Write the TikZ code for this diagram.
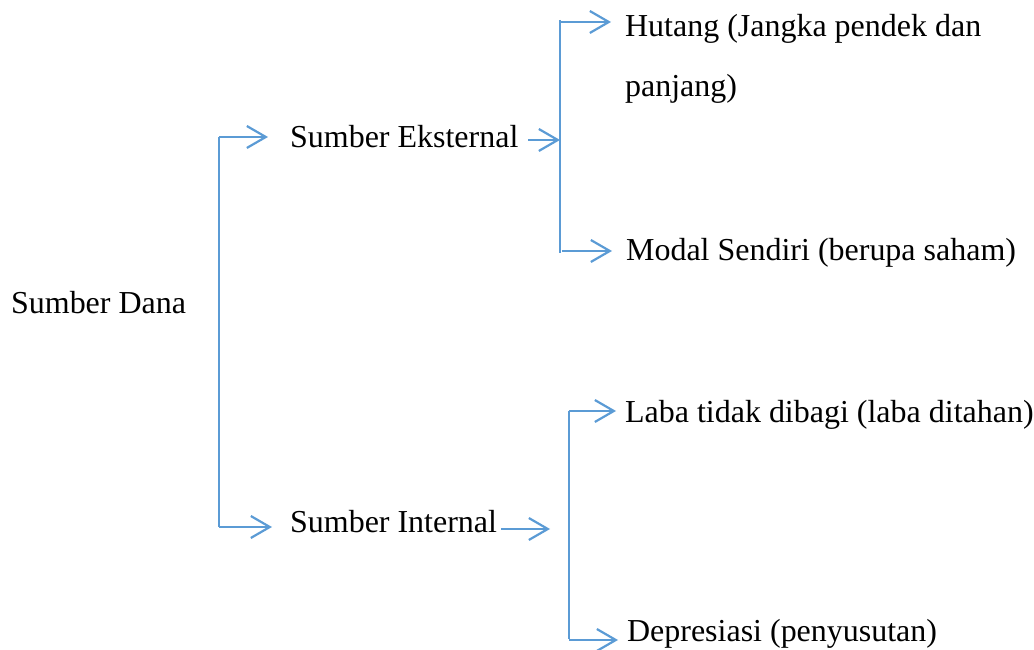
\documentclass[tikz,border=0pt]{standalone}
\usepackage{fontspec}
\setmainfont{Liberation Serif}
\usepackage{xcolor}
\usetikzlibrary{
  arrows.meta,
  calc,
  positioning
}
\definecolor{wordblue}{HTML}{5B9BD5}
\tikzset{
  line cap=butt,
  every picture/.style={line width=1.25pt},
  label/.style={inner sep=0pt, anchor=base west, font=\fontsize{18.2pt}{34.7pt}\selectfont, align=left},
  trunk/.style={draw=wordblue},
  arrow/.style={draw=wordblue, -{Straight Barb[length=0.38cm, width=0.44cm]}},
}

\begin{document}
\begin{tikzpicture}
  \useasboundingbox (0,0) rectangle (20.68,13);

  % texts
  \node[label] (dana) at (0.2,6.72) {Sumber Dana};
  \node[label] (eks) at (5.78,10.04) {Sumber Eksternal};
  \node[label] (int) at (5.78,2.34) {Sumber Internal};
  \node[label] (hutang) at (12.48,11.06) {Hutang (Jangka pendek dan\\panjang)};
  \node[label] (modal) at (12.5,7.78) {Modal Sendiri (berupa saham)};
  \node[label] (laba) at (12.48,4.54) {Laba tidak dibagi (laba ditahan)};
  \node[label] (depr) at (12.52,0.16) {Depresiasi (penyusutan)};

  % trunks
  \coordinate (ka) at (4.38,10.26);
  \coordinate (kb) at (4.38,2.46);
  \coordinate (ea) at (11.2,12.6);
  \coordinate (eb) at (11.2,7.94);
  \coordinate (ia) at (11.38,4.78);
  \coordinate (ib) at (11.38,0.22);
  \draw[trunk] (ka) -- (kb);
  \draw[trunk] (ea) -- (eb);
  \draw[trunk] (ia) -- (ib);

  % arrows
  \draw[arrow] (ka) -- ($(ka)+(0.98,0)$);
  \draw[arrow] (kb) -- ($(kb)+(1.06,0)$);
  \draw[arrow] (10.56,10.2) -- (10.56,10.2 -| ea);
  \draw[arrow] (10.02,2.42) -- (11.0,2.42);
  \draw[arrow] (11.2,12.56) -- (12.22,12.56);
  \draw[arrow] (11.24,7.98) -- (12.24,7.98);
  \draw[arrow] (ia) -- (12.32,4.78);
  \draw[arrow] (11.38,0.2) -- (12.36,0.2);
\end{tikzpicture}
\end{document}
